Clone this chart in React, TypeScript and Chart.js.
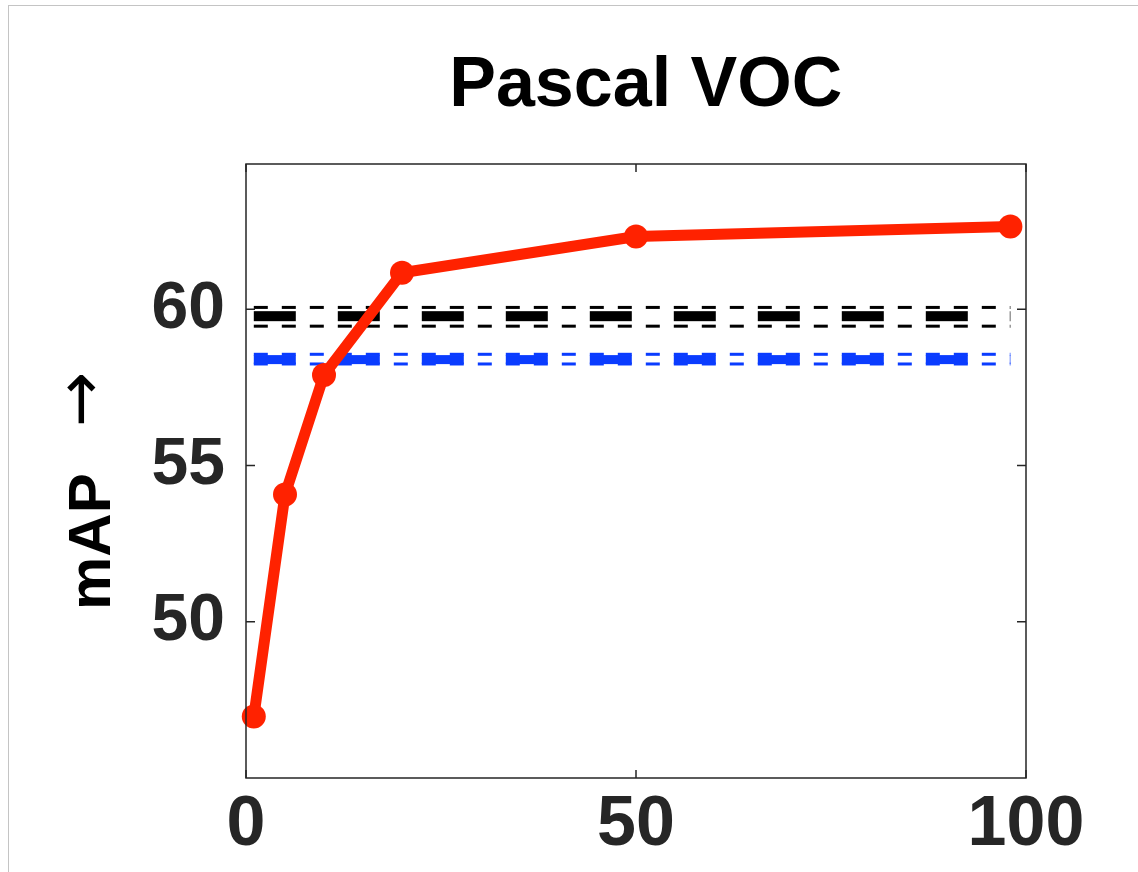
import React, { useEffect, useRef } from 'react';
import { Chart, registerables } from 'chart.js';

Chart.register(...registerables);

// ---- data ----
const TITLE = ' Pascal VOC';
const Y_LABEL_TEXT = 'mAP';
const Y_LABEL_ARROW = '\u2192';
const ratioX = [1, 5, 10, 20, 50, 98];
const ourMAP = [46.97, 54.07, 57.9, 61.17, 62.33, 62.65];
const refX = [1, 98];
const blackMean = [59.78, 59.78];
const blackUpper = [60.06, 60.06];
const blackLower = [59.46, 59.46];
const blueMean = [58.39, 58.39];
const blueUpper = [58.56, 58.56];
const blueLower = [58.25, 58.25];
const xTicks = [0, 50, 100];
const yTicks = [50, 55, 60];
const X_MIN = 0;
const X_MAX = 100;
const Y_MIN = 45;
const Y_MAX = 64.65;

const FONT = "'Liberation Sans', Arial, Helvetica, sans-serif";
const AXIS_COLOR = '#262626';
const RED = '#ff2200';
const BLACK = '#000000';
const BLUE = '#0a3cff';

const toPts = (xs: number[], ys: number[]) => xs.map((x, i) => ({ x, y: ys[i] }));

const refLine = (data: number[], color: string, width: number, dash: number[]) => ({
  data: toPts(refX, data),
  borderColor: color,
  backgroundColor: color,
  borderWidth: width,
  borderDash: dash,
  borderCapStyle: 'butt' as const,
  pointRadius: 0,
  tension: 0,
  fill: false,
  order: 2,
});

const framePlugin = {
  id: 'matlabFrame',
  afterDraw(chart: any) {
    const { ctx, chartArea } = chart;
    const { left, right, top, bottom } = chartArea;
    const xs = chart.scales.x;
    const ys = chart.scales.y;
    ctx.save();
    ctx.strokeStyle = AXIS_COLOR;
    ctx.lineWidth = 1.5;
    ctx.beginPath();
    ctx.rect(left, top, right - left, bottom - top);
    ctx.stroke();
    ctx.beginPath();
    yTicks.forEach((v) => {
      const py = ys.getPixelForValue(v);
      ctx.moveTo(left, py);
      ctx.lineTo(left + 9, py);
      ctx.moveTo(right, py);
      ctx.lineTo(right - 9, py);
    });
    xTicks.forEach((v) => {
      const px = xs.getPixelForValue(v);
      ctx.moveTo(px, bottom);
      ctx.lineTo(px, bottom - 8);
      ctx.moveTo(px, top);
      ctx.lineTo(px, top + 8);
    });
    ctx.stroke();

    // rotated y-axis label "mAP →"
    const cy = (top + bottom) / 2;
    ctx.translate(110, cy + 139);
    ctx.rotate(-Math.PI / 2);
    ctx.fillStyle = '#000';
    ctx.textAlign = 'left';
    ctx.textBaseline = 'alphabetic';
    ctx.font = `bold 60px ${FONT}`;
    ctx.fillText(Y_LABEL_TEXT, 0, 0);
    ctx.font = "66px 'DejaVu Sans', sans-serif";
    ctx.textBaseline = 'middle';
    ctx.fillText(Y_LABEL_ARROW, 183, -25);
    ctx.restore();
  },
};

export default function App() {
  const canvasRef = useRef<HTMLCanvasElement | null>(null);

  useEffect(() => {
    document.body.style.margin = '0';
    const canvas = canvasRef.current;
    if (!canvas) return;
    const chart = new Chart(canvas, {
      type: 'line',
      data: {
        datasets: [
          {
            data: toPts(ratioX, ourMAP),
            borderColor: RED,
            backgroundColor: RED,
            borderWidth: 11,
            borderJoinStyle: 'round',
            pointRadius: 12,
            pointBorderWidth: 0,
            pointBackgroundColor: RED,
            tension: 0,
            fill: false,
            clip: false,
            order: 0,
          } as any,
          refLine(blackUpper, BLACK, 3, [14, 14]),
          refLine(blackMean, BLACK, 10, [42, 42]),
          refLine(blackLower, BLACK, 3, [14, 14]),
          refLine(blueUpper, BLUE, 3, [14, 14]),
          refLine(blueMean, BLUE, 9, [42, 42]),
          refLine(blueLower, BLUE, 3, [14, 14]),
        ],
      },
      options: {
        animation: false,
        responsive: true,
        maintainAspectRatio: false,
        layout: { padding: { left: 0, right: 112, top: 0, bottom: 0 } },
        plugins: {
          legend: { display: false },
          tooltip: { enabled: false },
          title: {
            display: true,
            text: TITLE,
            fullSize: false,
            color: '#000',
            font: { family: FONT, size: 70, weight: 'bold' },
            padding: { top: 45, bottom: 35 },
          },
        },
        scales: {
          x: {
            type: 'linear',
            min: X_MIN,
            max: X_MAX,
            afterBuildTicks: (s: any) => {
              s.ticks = xTicks.map((v) => ({ value: v }));
            },
            afterFit: (s: any) => {
              s.height = 94;
            },
            ticks: {
              color: AXIS_COLOR,
              font: { family: FONT, size: 70, weight: 'bold' },
              padding: 6,
              maxRotation: 0,
              autoSkip: false,
            },
            grid: { display: false, drawTicks: false },
            border: { display: false },
          },
          y: {
            type: 'linear',
            min: Y_MIN,
            max: Y_MAX,
            afterBuildTicks: (s: any) => {
              s.ticks = yTicks.map((v) => ({ value: v }));
            },
            afterFit: (s: any) => {
              s.width = 246;
            },
            ticks: {
              color: AXIS_COLOR,
              font: { family: FONT, size: 66, weight: 'bold' },
              padding: 21,
              autoSkip: false,
            },
            grid: { display: false, drawTicks: false },
            border: { display: false },
          },
        },
      },
      plugins: [framePlugin],
    } as any);
    return () => chart.destroy();
  }, []);

  return (
    <div style={{ position: 'relative', width: 1138, height: 872, background: '#fff' }}>
      <canvas ref={canvasRef} />
      <div
        style={{
          position: 'absolute',
          left: 8,
          top: 5,
          right: 0,
          bottom: 0,
          borderLeft: '1px solid #c4c4c4',
          borderTop: '1px solid #c4c4c4',
          pointerEvents: 'none',
        }}
      />
    </div>
  );
}
